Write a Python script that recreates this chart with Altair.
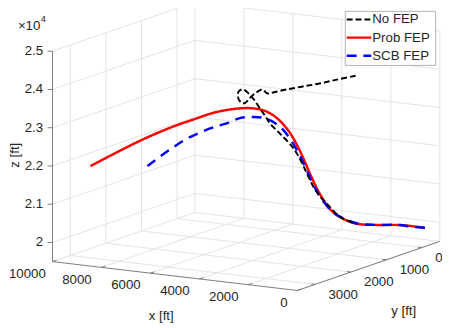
import altair as alt
import pandas as pd

# ---------------- axis limits and ticks ----------------
X_LIM = [0, 10000]
Y_LIM = [-500, 3500]
Z_LIM = [19500, 25000]
X_TICKS = [0, 2000, 4000, 6000, 8000, 10000]
X_TICK_LABELS = ["0", "2000", "4000", "6000", "8000", "10000"]
Y_TICKS = [0, 1000, 2000, 3000]
Y_TICK_LABELS = ["0", "1000", "2000", "3000"]
Z_TICKS = [20000, 21000, 22000, 23000, 24000, 25000]
Z_TICK_LABELS = ["2", "2.1", "2.2", "2.3", "2.4", "2.5"]

# ---------------- trajectories (ft) ----------------
nofep_x = [2420, 2818, 3177, 3495, 3773, 4044, 4139, 4194, 4289, 4385, 4480, 4495, 4542, 4502, 4415,
           4319, 4224, 4129, 4001, 3873, 3545, 3169, 2953, 2818, 2643, 2267, 2051, 1876, 1620]
nofep_y = [200, 450, 700, 950, 1200, 1400, 1500, 1600, 1700, 1800, 1900, 2000, 2050, 2050, 2000,
           1900, 1800, 1700, 1650, 1600, 1550, 1450, 1350, 1250, 1150, 1050, 950, 850, 750]
nofep_z = [23873, 23821, 23771, 23750, 23733, 23699, 23699, 23829, 23777, 23674, 23545, 23601, 23768, 23899, 23941,
           23813, 23609, 23353, 23167, 22955, 22707, 22344, 21943, 21536, 21133, 20744, 20497, 20350, 20260]

prob_x = [9176, 8279, 7422, 6510, 5718, 5342, 5006, 4670, 4374, 4119, 3903, 3688, 3472, 3217, 3041,
          2906, 2771, 2555, 2219, 1876, 1573, 1062, 550, 247, -96]
prob_y = [3000, 2900, 2800, 2600, 2400, 2300, 2200, 2100, 2000, 1900, 1800, 1700, 1600, 1500, 1400,
          1300, 1200, 1100, 1000, 850, 700, 500, 300, 150, 0]
prob_z = [21900, 22283, 22636, 22974, 23214, 23325, 23396, 23440, 23456, 23436, 23377, 23258, 23062, 22742, 22363,
          21957, 21524, 21046, 20603, 20350, 20222, 20171, 20145, 20094, 20021]

scb_x = [6850, 5803, 5124, 4653, 4349, 4046, 3791, 3535, 3279, 3100, 2961, 2826, 2690, 2515, 2179,
         1836, 1533, 1021, 510, 167, -176]
scb_y = [3000, 2700, 2450, 2250, 2100, 1950, 1850, 1750, 1650, 1525, 1400, 1300, 1200, 1100, 1000,
         850, 700, 500, 300, 150, 0]
scb_z = [22076, 22726, 23005, 23131, 23234, 23234, 23196, 23080, 22862, 22527, 22138, 21732, 21325, 20947, 20580,
         20353, 20225, 20174, 20148, 20075, 20027]

SERIES = ["No FEP", "Prob FEP", "SCB FEP"]
COLORS = ["#000000", "#ff0000", "#0000ff"]
DASHES = [[6, 3], [1, 0], [10, 7]]
WIDTHS = [2, 2.5, 2.5]

# ---------------- orthographic view (pixels) ----------------
W, H = 442, 320
ORIGIN = (421.6, 241.0)        # pixel position of (x=0, y=0, z=Z_LIM[0])
EX = (-0.02494, -0.00294)      # pixels per ft along x
EY = (-0.03625, 0.01250)       # pixels per ft along y
EZ = (0.0, -0.03896)           # pixels per ft along z


def proj(x, y, z):
    px = ORIGIN[0] + EX[0] * x + EY[0] * y + EZ[0] * (z - Z_LIM[0])
    py = ORIGIN[1] + EX[1] * x + EY[1] * y + EZ[1] * (z - Z_LIM[0])
    return px, py


def seg_df(segs):
    rows = []
    for (a, b) in segs:
        p1 = proj(*a)
        p2 = proj(*b)
        rows.append({"px": p1[0], "py": p1[1], "px2": p2[0], "py2": p2[1]})
    return pd.DataFrame(rows)


XS = alt.Scale(domain=[0, W], nice=False, zero=False)
YS = alt.Scale(domain=[0, H], nice=False, zero=False, reverse=True)
FONT = "Liberation Sans"
TXT = "#262626"
FS = 13.5

x0, x1 = X_LIM
y0, y1 = Y_LIM
z0, z1 = Z_LIM

# grid segments
grid = []
for zt in Z_TICKS:
    grid.append(((x1, y1, zt), (x1, y0, zt)))
    grid.append(((x1, y0, zt), (x0, y0, zt)))
for yt in Y_TICKS:
    grid.append(((x1, yt, z0), (x1, yt, z1)))
    grid.append(((x1, yt, z0), (x0, yt, z0)))
for xt in X_TICKS:
    grid.append(((xt, y0, z0), (xt, y0, z1)))
    grid.append(((xt, y1, z0), (xt, y0, z0)))
grid.append(((x1, y0, z0), (x0, y0, z0)))
grid_df = seg_df(grid)

# axis lines
axis_df = seg_df([
    ((x1, y1, z0), (x1, y1, z1)),
    ((x1, y1, z0), (x0, y1, z0)),
    ((x0, y1, z0), (x0, y0, z0)),
])

# ticks
tick_segs = []
for xt in X_TICKS:
    tick_segs.append(((xt, y1, z0), (xt, y1 - 110, z0)))
for yt in Y_TICKS:
    tick_segs.append(((x0, yt, z0), (x0 + 160, yt, z0)))
tick_df = seg_df(tick_segs)
zt_rows = []
for zt in Z_TICKS:
    px, py = proj(x1, y1, zt)
    zt_rows.append({"px": px, "py": py, "px2": px - 5, "py2": py})
ztick_df = pd.DataFrame(zt_rows)


def grid_layer(df, color, width):
    return alt.Chart(df).mark_rule(color=color, strokeWidth=width).encode(
        x=alt.X("px:Q", scale=XS, axis=None), y=alt.Y("py:Q", scale=YS, axis=None),
        x2="px2:Q", y2="py2:Q")


layers = [
    grid_layer(grid_df, "#e3e3e3", 1),
    grid_layer(axis_df, "#6e6e6e", 0.9),
    grid_layer(tick_df, "#6e6e6e", 0.9),
    grid_layer(ztick_df, "#6e6e6e", 0.9),
]


def label_df(points, labels, right_offset=None):
    rows = []
    for p, lab in zip(points, labels):
        px, py = proj(*p)
        if right_offset is not None:
            # keep right-aligned labels inside the drawing area
            width = len(lab) * 0.556 * FS
            px = max(px, width + 1.0 - right_offset)
        rows.append({"px": px, "py": py, "label": lab})
    return pd.DataFrame(rows)


def text_layer(df, align, dx, dy, size=FS, angle=0):
    return alt.Chart(df).mark_text(align=align, baseline="middle", dx=dx, dy=dy, font=FONT,
                                   fontSize=size, color=TXT, angle=angle).encode(
        x=alt.X("px:Q", scale=XS, axis=None), y=alt.Y("py:Q", scale=YS, axis=None), text="label:N")


layers.append(text_layer(label_df([(xt, y1, z0) for xt in X_TICKS], X_TICK_LABELS, right_offset=-10),
                         "right", -10, 12.5))
layers.append(text_layer(label_df([(x0, yt, z0) for yt in Y_TICKS], Y_TICK_LABELS), "left", 13.5, 10.5))
layers.append(text_layer(label_df([(x1, y1, zt) for zt in Z_TICKS], Z_TICK_LABELS), "right", -9.5, 0))


def fixed_text(txt, x, y, size=FS, align="center", angle=0):
    return alt.Chart(pd.DataFrame({"label": [txt]})).mark_text(
        align=align, baseline="middle", font=FONT, fontSize=size, color=TXT, angle=angle).encode(
        x=alt.value(x), y=alt.value(y), text="label:N")


layers += [
    fixed_text("x [ft]", 156, 311),
    fixed_text("y [ft]", 403, 306),
    fixed_text("z [ft]", 7, 147, angle=270),
    fixed_text("\u00d710", 21.5, 15.5),
    fixed_text("4", 36, 8.5, size=9.5),
]

# trajectories (red first, then blue, then black on top)
traj = {
    "No FEP": (nofep_x, nofep_y, nofep_z),
    "Prob FEP": (prob_x, prob_y, prob_z),
    "SCB FEP": (scb_x, scb_y, scb_z),
}
for name in ["Prob FEP", "SCB FEP", "No FEP"]:
    k = SERIES.index(name)
    xs, ys, zs = traj[name]
    rows = []
    for i, (a, b, c) in enumerate(zip(xs, ys, zs)):
        px, py = proj(a, b, c)
        rows.append({"i": i, "px": px, "py": py, "series": name})
    df = pd.DataFrame(rows)
    layers.append(alt.Chart(df).mark_line(color=COLORS[k], strokeWidth=WIDTHS[k], interpolate="catmull-rom",
                                          strokeDash=DASHES[k], strokeCap="butt").encode(
        x=alt.X("px:Q", scale=XS, axis=None), y=alt.Y("py:Q", scale=YS, axis=None),
        order="i:Q"))

# legend box
leg_box = alt.Chart(pd.DataFrame({"a": [0]})).mark_rect(fill="white", stroke="#a0a0a0", strokeWidth=0.8).encode(
    x=alt.value(343.5), x2=alt.value(435.5), y=alt.value(0.5), y2=alt.value(55.5))
layers.append(leg_box)
leg_y = [8.7, 27.2, 45.7]
for k, name in enumerate(SERIES):
    layers.append(alt.Chart(pd.DataFrame({"a": [0]})).mark_rule(
        color=COLORS[k], strokeWidth=WIDTHS[k], strokeDash=DASHES[k], strokeCap="butt").encode(
        x=alt.value(345), x2=alt.value(370), y=alt.value(leg_y[k])))
    layers.append(fixed_text(name, 371, leg_y[k], size=13.5, align="left"))

chart = alt.layer(*layers).properties(
    width=W, height=H, padding=0, autosize=alt.AutoSizeParams(type="none")
).configure_view(stroke=None)

chart.save("out.html", embed_options={"renderer": "svg", "actions": False})
